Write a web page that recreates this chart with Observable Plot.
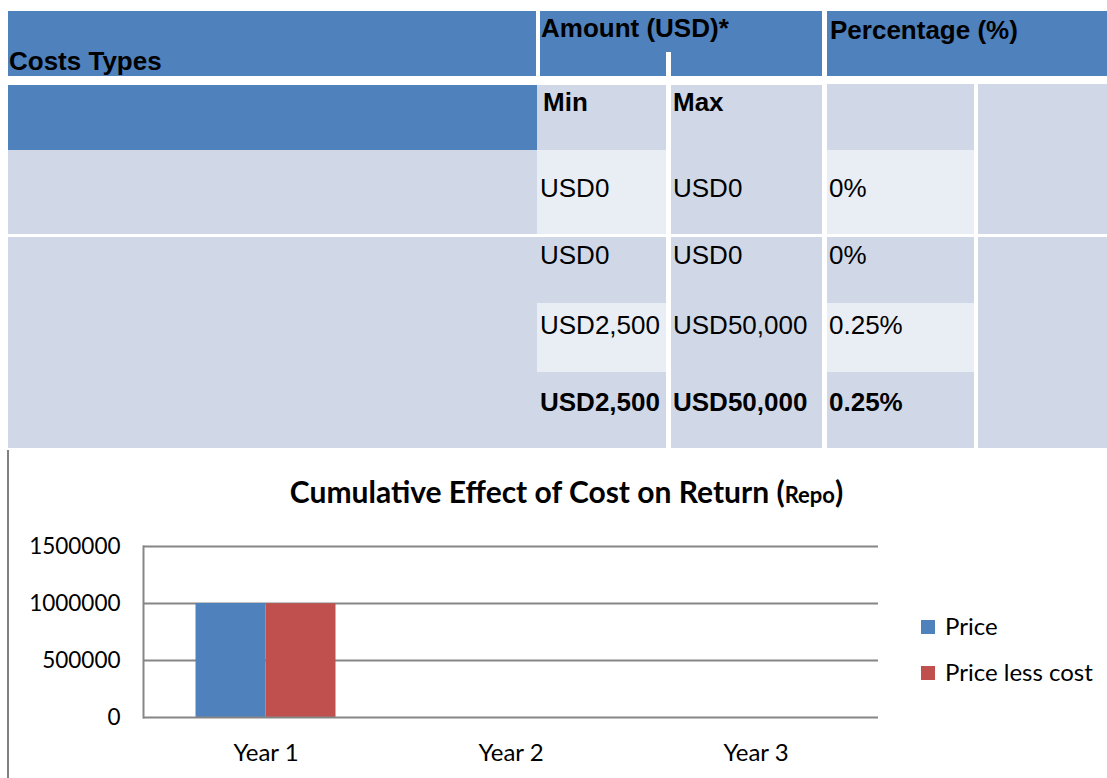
<!DOCTYPE html>
<html>
<head>
<meta charset="utf-8">
<script src="https://cdn.jsdelivr.net/npm/d3@7"></script>
<script src="https://cdn.jsdelivr.net/npm/@observablehq/plot@0.6"></script>
<style>
  html, body { margin: 0; padding: 0; background: #fff; }
  #page { position: relative; width: 1107px; height: 778px; overflow: hidden; background: #fff; }
  .cell { position: absolute; }
  .ttxt { position: absolute; white-space: nowrap; font-family: "Liberation Sans", Arial, sans-serif; font-size: 26px; line-height: 26px; color: #000; }
  .ctxt { position: absolute; white-space: nowrap; font-family: "Lato", sans-serif; color: #000; }
</style>
</head>
<body>
<div id="page"></div>
<script>
// ---------- table data ----------
const costHeaders = ["Costs Types", "Amount (USD)*", "Percentage (%)"];
const amountSubHeaders = ["Min", "Max"];
const minAmounts = ["USD0", "USD0", "USD2,500", "USD2,500"];
const maxAmounts = ["USD0", "USD0", "USD50,000", "USD50,000"];
const percentages = ["0%", "0%", "0.25%", "0.25%"];

// ---------- chart data ----------
const years = ["Year 1", "Year 2", "Year 3"];
const seriesNames = ["Price", "Price less cost"];
const priceValues = [1000000, 0, 0];
const priceLessCostValues = [997500, 0, 0];
const yTickValues = [0, 500000, 1000000, 1500000];
const chartTitleMain = "Cumulative Effect of Cost on Return (";
const chartTitleSmall = "Repo";
const chartTitleEnd = ")";

// ---------- styles ----------
const BLUE = "#4F81BD", LIGHT = "#D0D8E8", LIGHTER = "#E9EDF4";
const seriesColors = ["#4F81BD", "#C0504D"];
const GRID = "#868686";

const page = document.getElementById("page");

function rect(x1, y1, x2, y2, color) {
  const d = document.createElement("div");
  d.className = "cell";
  Object.assign(d.style, {left: x1 + "px", top: y1 + "px", width: (x2 - x1) + "px", height: (y2 - y1) + "px", background: color});
  page.appendChild(d);
}
function ttext(str, x, capCenter, bold) {
  const d = document.createElement("div");
  d.className = "ttxt";
  d.textContent = str;
  d.style.left = x + "px";
  d.style.top = (capCenter - 12.7) + "px";
  if (bold) d.style.fontWeight = "bold";
  page.appendChild(d);
}

// table backgrounds
rect(8, 11, 536, 76, BLUE);
rect(540, 11, 822, 76, BLUE);
rect(666, 52, 671, 76, "#fff");
rect(827, 11, 1107, 76, BLUE);

rect(8, 85, 537, 150, BLUE);
rect(537, 85, 666, 150, LIGHT);
rect(671, 85, 822, 150, LIGHT);
rect(827, 84, 974, 150, LIGHT);
rect(978, 84, 1107, 150, LIGHT);

rect(8, 150, 537, 448, LIGHT);
rect(537, 150, 666, 448, LIGHT);
rect(671, 150, 822, 448, LIGHT);
rect(827, 150, 974, 448, LIGHT);
rect(978, 150, 1107, 448, LIGHT);
// lighter banding
rect(537, 150, 666, 234, LIGHTER);
rect(827, 150, 974, 234, LIGHTER);
rect(537, 303, 666, 372, LIGHTER);
rect(827, 303, 974, 372, LIGHTER);
// row separator
rect(8, 234, 1107, 237, "#fff");

// header texts
ttext(costHeaders[0], 9, 61, true);
ttext(costHeaders[1], 541, 28, true);
ttext(costHeaders[2], 830, 30, true);
ttext(amountSubHeaders[0], 543, 102, true);
ttext(amountSubHeaders[1], 673, 102, true);

const rowCenters = [188, 255, 325, 402];
minAmounts.forEach((v, i) => {
  const bold = i === minAmounts.length - 1;
  ttext(v, 540, rowCenters[i], bold);
  ttext(maxAmounts[i], 673, rowCenters[i], bold);
  ttext(percentages[i], 829, rowCenters[i], bold);
});

// chart region left border
rect(7, 450, 8.5, 778, "#808080");

// chart title
const title = document.createElement("div");
title.className = "ctxt";
Object.assign(title.style, {left: "0px", width: "1133px", textAlign: "center", top: "476px", fontSize: "30px", lineHeight: "30px", fontWeight: "bold"});
title.appendChild(document.createTextNode(chartTitleMain));
const small = document.createElement("span");
small.style.fontSize = "22px";
small.textContent = chartTitleSmall;
title.appendChild(small);
title.appendChild(document.createTextNode(chartTitleEnd));
page.appendChild(title);

// chart
const priceData = years.map((y, i) => ({year: y, value: priceValues[i]}));
const lessCostData = years.map((y, i) => ({year: y, value: priceLessCostValues[i]}));

const chart = Plot.plot({
  width: 1107,
  height: 328,
  marginLeft: 143,
  marginRight: 229,
  marginTop: 96,
  marginBottom: 61,
  x: {domain: years, padding: 0, axis: null},
  y: {domain: [0, 1500000], axis: null},
  style: {fontFamily: "Lato, sans-serif", fontSize: "22.5px", color: "#000", background: "transparent", overflow: "visible"},
  marks: [
    Plot.ruleY(yTickValues.filter(d => d > 0), {stroke: GRID, strokeWidth: 2}),
    Plot.frame({anchor: "left", stroke: GRID, strokeWidth: 2}),
    Plot.barY(priceData, {x: "year", y: "value", fill: seriesColors[0], insetLeft: 52.5, insetRight: 122.5}),
    Plot.barY(lessCostData, {x: "year", y: "value", fill: seriesColors[1], insetLeft: 122.5, insetRight: 52.5}),
    Plot.ruleY([0], {stroke: GRID, strokeWidth: 2}),
    Plot.axisY({ticks: yTickValues, tickSize: 0, tickPadding: 23, tickFormat: d3.format("d"), fontSize: 22.5, label: null}),
    Plot.axisX({tickSize: 0, tickPadding: 26, fontSize: 24, label: null})
  ]
});
chart.style.position = "absolute";
chart.style.left = "0px";
chart.style.top = "450px";
page.appendChild(chart);

// legend
const legendRows = [{y: 627}, {y: 673}];
seriesNames.forEach((name, i) => {
  const cy = legendRows[i].y;
  rect(921, cy - 7.5, 935, cy + 6.5, seriesColors[i]);
  const t = document.createElement("div");
  t.className = "ctxt";
  Object.assign(t.style, {left: "945px", top: (cy - 12.7) + "px", fontSize: "24px", lineHeight: "24px"});
  t.textContent = name;
  page.appendChild(t);
});
</script>
</body>
</html>
